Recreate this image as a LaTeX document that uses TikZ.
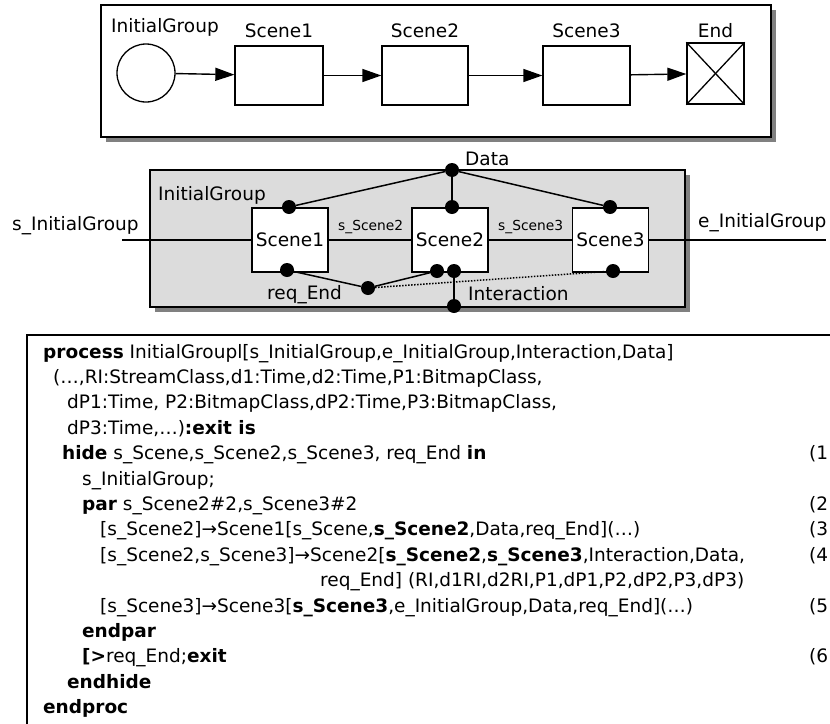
\documentclass[tikz,border=0pt]{standalone}
\usepackage{fontspec}
\setmainfont{DejaVu Sans}
\usetikzlibrary{positioning,arrows.meta}
\definecolor{panelgray}{RGB}{220,220,220}
\definecolor{shadowgray}{RGB}{128,128,128}
\newcommand{\lblfont}{\fontsize{18.5}{22}\selectfont}
\newcommand{\gatefont}{\fontsize{13.8}{16}\selectfont}

\begin{document}
\begin{tikzpicture}[x=1pt,y=-1pt,
    lbl/.style={inner sep=0pt,font=\lblfont},
    gatelbl/.style={inner sep=0pt,font=\gatefont},
    box/.style={draw,fill=white,line width=1.3pt,minimum width=88pt,minimum height=59pt,inner sep=0pt},
    scene/.style={draw,fill=white,line width=1.3pt,minimum width=76pt,minimum height=64pt,inner sep=0pt,font=\lblfont},
    dot/.style={circle,fill,inner sep=0pt,minimum size=14pt},
    flow/.style={line width=1.4pt,-{Triangle[length=19pt,width=13pt]}},
    wire/.style={line width=1.5pt},
    code/.style={anchor=base west,inner sep=0pt,font=\lblfont}]
  \useasboundingbox (0,0) rectangle (830,723);

  % state chart of the group
  \fill[shadowgray] (106,10) rectangle (776,142);
  \draw[line width=2pt,fill=white] (101,5) rectangle (771,137);
  \node[lbl,anchor=base west] (topname) at (111,32) {InitialGroup};
  \node[draw,circle,line width=1.3pt,minimum size=58pt,inner sep=0pt] (start) at (146,73) {};
  \node[box] (a1) at (279,75.5) {};
  \node[box,minimum width=86pt] (a2) at (425,75.5) {};
  \node[box,minimum width=87pt] (a3) at (586.5,75.5) {};
  \node[box,minimum width=57pt,minimum height=61pt] (aend) at (715.5,73.5) {};
  \draw[line width=1.3pt] (aend.north west) -- (aend.south east);
  \draw[line width=1.3pt] (aend.north east) -- (aend.south west);
  \node[lbl,above=7pt of a1] (a1name) {Scene1};
  \node[lbl,above=7pt of a2] (a2name) {Scene2};
  \node[lbl,above=7pt of a3] (a3name) {Scene3};
  \node[lbl,above=4pt of aend] (aendname) {End};
  \draw[flow] (start) -- (a1);
  \draw[flow] (a1) -- (a2);
  \draw[flow] (a2) -- (a3);
  \draw[flow] (a3) -- (aend);

  % process with its gates
  \fill[shadowgray] (155,175) rectangle (690,312);
  \draw[line width=2pt,fill=panelgray] (150,170) rectangle (685,307);
  \node[lbl,anchor=base west] (grpname) at (158,200) {InitialGroup};
  \node[scene] (s1) at (290,240) {Scene1};
  \node[scene] (s2) at (450,240) {Scene2};
  \node[scene] (s3) at (610.5,240) {Scene3};
  \coordinate (sin) at (122,240);
  \coordinate (eout) at (826,240);
  \draw[wire] (sin) -- (s1);
  \draw[wire] (s1) -- (s2);
  \draw[wire] (s2) -- (s3);
  \draw[wire] (s3) -- (eout);
  \node[lbl,anchor=base west] (sinname) at (12,230) {s\_InitialGroup};
  \node[lbl,anchor=base west] (eoutname) at (698,227) {e\_InitialGroup};
  \node[gatelbl,anchor=base west] (g2name) at (338,230) {s\_Scene2};
  \node[gatelbl,anchor=base west] (g3name) at (498,230) {s\_Scene3};

  \node[dot] (data) at (452,170) {};
  \node[dot] (s1in) at (289,207) {};
  \node[dot] (s2in) at (452,207) {};
  \node[dot] (s3in) at (610,207) {};
  \node[dot] (s1req) at (287,270) {};
  \node[dot] (s2req) at (437,271) {};
  \node[dot] (s2int) at (454,271) {};
  \node[dot] (s3req) at (613,271) {};
  \node[dot] (reqjoin) at (368,288) {};
  \node[dot] (intout) at (454,306) {};
  \draw[wire] (data) -- (s1in);
  \draw[wire] (data) -- (s2in);
  \draw[wire] (data) -- (s3in);
  \draw[wire] (s1req) -- (reqjoin) -- (s2req);
  \draw[line width=1.5pt,dash pattern=on 1.5pt off 1.5pt] (reqjoin) -- (s3req);
  \draw[wire] (s2int) -- (intout);
  \node[lbl,anchor=base west] (dataname) at (465,165) {Data};
  \node[lbl,anchor=base west] (reqname) at (267,299) {req\_End};
  \node[lbl,anchor=base west] (intname) at (468,300) {Interaction};

  % LOTOS text
  \draw[line width=2pt] (840,335) -- (27,335) -- (27,733);
  \node[code] (l1) at (43,358) {\textbf{process} InitialGroupl[s\_InitialGroup,e\_InitialGroup,Interaction,Data]};
  \node[code] (l2) at (53,383.4) {(\ldots,RI:StreamClass,d1:Time,d2:Time,P1:BitmapClass,};
  \node[code] (l3) at (67,408.8) {dP1:Time, P2:BitmapClass,dP2:Time,P3:BitmapClass,};
  \node[code] (l4) at (67,434.2) {dP3:Time,\ldots)\textbf{:exit is}};
  \node[code] (l5) at (62,459.6) {\textbf{hide} s\_Scene,s\_Scene2,s\_Scene3, req\_End \textbf{in}};
  \node[code] (l6) at (82,485) {s\_InitialGroup;};
  \node[code] (l7) at (82,510.4) {\textbf{par} s\_Scene2\#2,s\_Scene3\#2};
  \node[code] (l8) at (100,535.8) {[s\_Scene2]→Scene1[s\_Scene,\textbf{s\_Scene2},Data,req\_End](\ldots)};
  \node[code] (l9) at (100,561.2) {[s\_Scene2,s\_Scene3]→Scene2[\textbf{s\_Scene2},\textbf{s\_Scene3},Interaction,Data,};
  \node[code] (l10) at (320,586.6) {req\_End] (RI,d1RI,d2RI,P1,dP1,P2,dP2,P3,dP3)};
  \node[code] (l11) at (100,612) {[s\_Scene3]→Scene3[\textbf{s\_Scene3},e\_InitialGroup,Data,req\_End](\ldots)};
  \node[code] (l12) at (82,637.4) {\textbf{endpar}};
  \node[code] (l13) at (82,662.8) {\textbf{[>}req\_End;\textbf{exit}};
  \node[code] (l14) at (67,688.2) {\textbf{endhide}};
  \node[code] (l15) at (43,713.6) {\textbf{endproc}};
  \node[code] (n1) at (809,459.6) {(1};
  \node[code] (n2) at (809,510.4) {(2};
  \node[code] (n3) at (809,535.8) {(3};
  \node[code] (n4) at (809,561.2) {(4};
  \node[code] (n5) at (809,612) {(5};
  \node[code] (n6) at (809,662.8) {(6};
\end{tikzpicture}
\end{document}
